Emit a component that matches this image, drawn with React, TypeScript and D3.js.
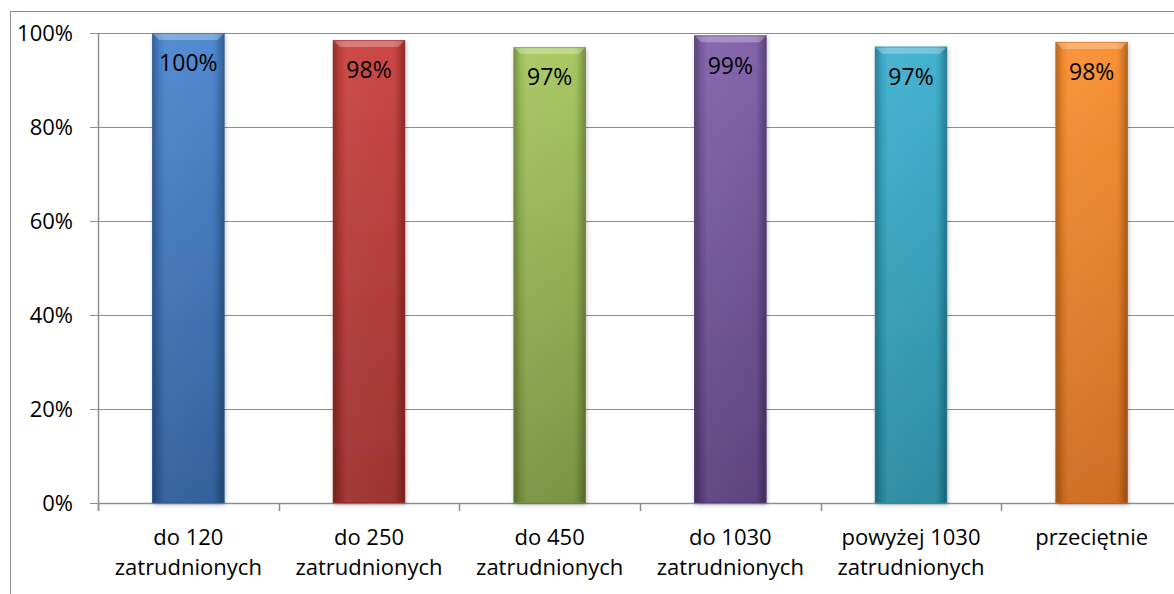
import React from "react";
import * as d3 from "d3";

const categories: string[][] = [
  ["do 120", "zatrudnionych"],
  ["do 250", "zatrudnionych"],
  ["do 450", "zatrudnionych"],
  ["do 1030", "zatrudnionych"],
  ["powyżej 1030", "zatrudnionych"],
  ["przeciętnie"],
];
const values: number[] = [1.0, 0.985, 0.97, 0.995, 0.971, 0.981];
const valueLabels: string[] = ["100%", "98%", "97%", "99%", "97%", "98%"];
const yTicks: number[] = [0, 0.2, 0.4, 0.6, 0.8, 1.0];
const barTop: string[] = ["#4b86cf", "#c9423e", "#a6c75e", "#8060a9", "#3db0cf", "#f98f30"];
const barBottom: string[] = ["#2e5b97", "#9a2d2b", "#76903f", "#593e7b", "#28889f", "#cc6a1e"];

const W = 1174;
const H = 594;
const FONT = "'Open Sans', 'Noto Sans', sans-serif";

export default function App() {
  const left = 98;
  const right = 1182;
  const top = 33;
  const bottom = 503;
  const x = d3.scaleBand<number>().domain(d3.range(categories.length)).range([left, right]).paddingInner(0.6).paddingOuter(0.3);
  const xb = d3.scaleBand<number>().domain(d3.range(categories.length)).range([left, right]);
  const y = d3.scaleLinear().domain([0, 1]).range([bottom, top]);
  const grid = "#8e8e8e";

  return (
    <svg width={W} height={H} style={{ position: "absolute", left: 0, top: 0, background: "#fff" }} fontFamily={FONT}>
      <defs>
        {values.map((_, i) => (
          <linearGradient key={"v" + i} id={"gv" + i} x1="0" y1="0" x2="0" y2="1">
            <stop offset="0%" stopColor={barTop[i]} />
            <stop offset="100%" stopColor={barBottom[i]} />
          </linearGradient>
        ))}
        <linearGradient id="gh" x1="0" y1="0" x2="1" y2="0">
          <stop offset="0%" stopColor="#000" stopOpacity={0.28} />
          <stop offset="10%" stopColor="#000" stopOpacity={0.05} />
          <stop offset="18%" stopColor="#fff" stopOpacity={0.06} />
          <stop offset="82%" stopColor="#fff" stopOpacity={0.03} />
          <stop offset="90%" stopColor="#000" stopOpacity={0.08} />
          <stop offset="100%" stopColor="#000" stopOpacity={0.3} />
        </linearGradient>
        <filter id="sh" x="-20%" y="-5%" width="140%" height="115%">
          <feDropShadow dx="1" dy="2" stdDeviation="2" floodColor="#000" floodOpacity="0.25" />
        </filter>
      </defs>

      {/* outer border */}
      <rect x={10.5} y={11.5} width={W + 20} height={H + 20} fill="none" stroke="#8c8c8c" strokeWidth={1} />

      {/* gridlines */}
      {yTicks.map((t) => (
        <line key={"g" + t} x1={left} x2={right} y1={Math.round(y(t)) + 0.5} y2={Math.round(y(t)) + 0.5} stroke={grid} strokeWidth={t === 0 ? 1.5 : 1} />
      ))}
      {/* y axis */}
      <line x1={left + 0.5} x2={left + 0.5} y1={top} y2={bottom + 8} stroke={grid} strokeWidth={1.5} />
      {yTicks.map((t) => (
        <g key={"yt" + t}>
          <line x1={left - 8} x2={left} y1={Math.round(y(t)) + 0.5} y2={Math.round(y(t)) + 0.5} stroke={grid} />
          <text x={73} y={y(t)} dy="0.36em" textAnchor="end" fontSize={22} fill="#000">
            {d3.format(".0%")(t)}
          </text>
        </g>
      ))}
      {/* x ticks */}
      {d3.range(categories.length + 1).map((i) => {
        const xx = Math.round(left + i * xb.step()) + 0.5;
        return <line key={"xt" + i} x1={xx} x2={xx} y1={bottom} y2={bottom + 8} stroke={grid} strokeWidth={1.5} />;
      })}

      {/* bars */}
      {values.map((v, i) => {
        const bx = x(i)!;
        const bw = x.bandwidth();
        const by = y(v);
        const bh = bottom - by;
        const bev = 7;
        return (
          <g key={"b" + i}>
            <rect x={bx} y={by} width={bw} height={bh} fill={`url(#gv${i})`} filter="url(#sh)" />
            <rect x={bx} y={by} width={bw} height={bh} fill="url(#gh)" />
            <path
              d={`M${bx},${by} L${bx + bw},${by} L${bx + bw - bev},${by + bev} L${bx + bev},${by + bev} Z`}
              fill="#fff"
              fillOpacity={0.28}
            />
            <rect x={bx + 0.5} y={by + 0.5} width={bw - 1} height={bh - 1} fill="none" stroke={barBottom[i]} strokeOpacity={0.6} />
            <text x={bx + bw / 2} y={by + 30} dy="0.36em" textAnchor="middle" fontSize={23} fill="#000">
              {valueLabels[i]}
            </text>
          </g>
        );
      })}

      {/* category labels */}
      {categories.map((lines, i) => {
        const cx = xb(i)! + xb.bandwidth() / 2;
        return (
          <text key={"c" + i} x={cx} textAnchor="middle" fontSize={22} fill="#000">
            {lines.map((l, j) => (
              <tspan key={j} x={cx} y={545 + j * 30}>
                {l}
              </tspan>
            ))}
          </text>
        );
      })}
    </svg>
  );
}
